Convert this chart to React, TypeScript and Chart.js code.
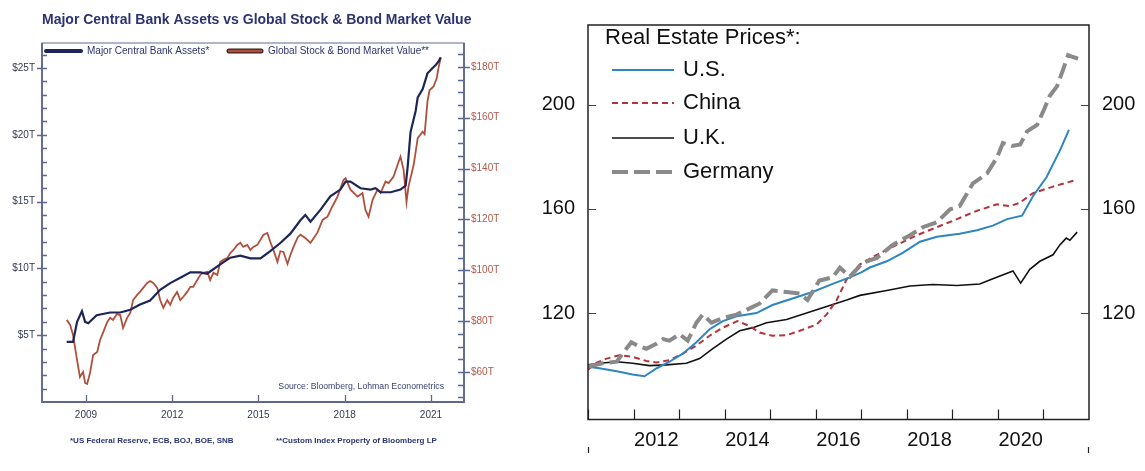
import React, { useEffect, useRef } from "react";
import { Chart, registerables } from "chart.js";
Chart.register(...registerables);

// ---------- Left chart data ----------
const cbYears = [2008.33, 2008.55, 2008.69, 2008.86, 2008.97, 2009.08, 2009.37, 2009.84, 2010.19, 2010.54, 2010.88, 2011.23, 2011.58, 2011.93, 2012.28, 2012.63, 2012.98, 2013.21, 2013.67, 2014.02, 2014.37, 2014.72, 2015.07, 2015.41, 2015.76, 2016.11, 2016.46, 2016.63, 2016.81, 2017.16, 2017.5, 2017.85, 2018.03, 2018.2, 2018.55, 2018.9, 2019.07, 2019.25, 2019.6, 2019.94, 2020.12, 2020.19, 2020.29, 2020.47, 2020.54, 2020.71, 2020.88, 2021.06, 2021.16, 2021.27, 2021.34];
const cbAssets = [4.5, 4.5, 6.0, 6.8, 6.0, 5.9, 6.5, 6.7, 6.7, 6.9, 7.3, 7.6, 8.4, 8.9, 9.3, 9.7, 9.7, 9.6, 10.3, 10.8, 10.95, 10.75, 10.75, 11.3, 11.9, 12.6, 13.6, 14.0, 13.5, 14.4, 15.4, 15.9, 16.5, 16.5, 16.0, 15.9, 16.0, 15.7, 15.7, 15.9, 16.2, 17.6, 20.2, 21.8, 22.8, 23.4, 24.6, 25.0, 25.2, 25.5, 25.8];

const mktYears = [2008.33, 2008.45, 2008.55, 2008.69, 2008.79, 2008.9, 2008.97, 2009.04, 2009.14, 2009.25, 2009.39, 2009.49, 2009.6, 2009.74, 2009.84, 2009.94, 2010.08, 2010.19, 2010.29, 2010.43, 2010.54, 2010.64, 2010.78, 2010.88, 2010.99, 2011.13, 2011.23, 2011.34, 2011.48, 2011.58, 2011.69, 2011.83, 2011.93, 2012.03, 2012.17, 2012.28, 2012.38, 2012.52, 2012.63, 2012.73, 2012.87, 2012.98, 2013.08, 2013.22, 2013.32, 2013.43, 2013.57, 2013.67, 2013.78, 2013.92, 2014.02, 2014.13, 2014.26, 2014.37, 2014.47, 2014.61, 2014.72, 2014.82, 2014.96, 2015.07, 2015.17, 2015.31, 2015.41, 2015.52, 2015.66, 2015.76, 2015.87, 2016.01, 2016.11, 2016.22, 2016.36, 2016.46, 2016.63, 2016.81, 2017.05, 2017.23, 2017.4, 2017.57, 2017.75, 2017.96, 2018.03, 2018.2, 2018.45, 2018.62, 2018.72, 2018.83, 2018.97, 2019.14, 2019.25, 2019.42, 2019.53, 2019.7, 2019.84, 2019.94, 2020.05, 2020.15, 2020.22, 2020.4, 2020.54, 2020.71, 2020.78, 2020.88, 2020.95, 2021.09, 2021.2, 2021.27, 2021.34];
const mktValue = [80.5, 78.5, 74.6, 64.7, 58.0, 60.0, 55.7, 55.3, 59.6, 66.7, 67.9, 72.6, 75.7, 79.7, 81.3, 80.5, 82.8, 82.4, 77.3, 81.3, 83.2, 88.3, 90.3, 91.5, 93.1, 95.0, 95.8, 95.0, 93.1, 88.3, 85.2, 88.3, 86.4, 89.1, 91.5, 88.3, 89.5, 91.5, 93.5, 93.5, 96.2, 98.2, 99.0, 99.4, 96.2, 99.0, 98.2, 103.3, 104.1, 104.9, 106.8, 108.0, 110.0, 110.8, 109.2, 110.0, 108.0, 109.2, 110.0, 112.0, 113.9, 114.7, 111.2, 108.0, 103.3, 107.5, 107.2, 102.5, 106.0, 109.2, 112.8, 114.0, 112.7, 110.8, 114.8, 119.8, 121.1, 125.1, 129.0, 135.6, 136.2, 131.7, 129.0, 130.4, 123.8, 121.1, 127.7, 131.7, 130.4, 134.9, 134.3, 136.9, 141.5, 144.7, 139.5, 126.8, 133.0, 141.5, 152.0, 154.5, 153.5, 166.5, 170.8, 172.3, 175.5, 180.0, 183.5];

const leftXTicks = [2009, 2012, 2015, 2018, 2021];
const leftYTicks = [5, 10, 15, 20, 25];
const rightYTicks = [60, 80, 100, 120, 140, 160, 180];
const leftSeriesNames = ["Major Central Bank Assets*", "Global Stock & Bond Market Value**"];

// ---------- Right chart data ----------
const usYears = [2011.0, 2011.25, 2011.63, 2011.98, 2012.24, 2012.51, 2012.79, 2013.08, 2013.38, 2013.67, 2013.96, 2014.26, 2014.7, 2015.05, 2015.49, 2015.93, 2016.37, 2016.75, 2017.0, 2017.19, 2017.56, 2017.91, 2018.29, 2018.66, 2019.16, 2019.54, 2019.89, 2020.2, 2020.53, 2020.77, 2021.07, 2021.36, 2021.56];
const usValues = [99.4, 98.8, 97.6, 96.4, 95.7, 98.8, 101.3, 104.4, 108.8, 113.8, 116.9, 118.8, 120.0, 123.1, 125.6, 128.1, 131.2, 133.7, 135.6, 137.5, 139.9, 143.1, 147.4, 149.3, 150.5, 151.8, 153.6, 156.1, 157.4, 164.9, 172.3, 182.4, 190.4];

const cnYears = [2011.0, 2011.19, 2011.41, 2011.69, 2011.98, 2012.28, 2012.5, 2012.79, 2013.08, 2013.38, 2013.67, 2013.96, 2014.28, 2014.55, 2014.77, 2015.05, 2015.36, 2015.65, 2016.02, 2016.24, 2016.46, 2016.68, 2016.97, 2017.34, 2017.78, 2018.22, 2018.66, 2019.1, 2019.54, 2019.98, 2020.26, 2020.48, 2020.77, 2021.21, 2021.74];
const cnValues = [98.2, 101.0, 102.5, 103.8, 103.2, 101.6, 101.0, 101.9, 104.4, 107.5, 111.3, 114.4, 116.9, 115.0, 112.5, 111.3, 111.5, 113.2, 115.6, 119.5, 125.0, 133.0, 138.7, 142.4, 146.2, 149.9, 153.0, 156.1, 159.3, 161.8, 161.1, 162.4, 166.1, 168.6, 171.3];

const ukYears = [2011.0, 2011.25, 2011.63, 2011.98, 2012.35, 2012.72, 2013.16, 2013.45, 2013.74, 2014.04, 2014.33, 2014.62, 2014.92, 2015.36, 2015.8, 2016.24, 2016.68, 2016.97, 2017.56, 2018.07, 2018.57, 2019.1, 2019.6, 2019.96, 2020.33, 2020.5, 2020.7, 2020.92, 2021.21, 2021.36, 2021.5, 2021.58, 2021.74];
const ukValues = [100.1, 100.7, 101.3, 100.7, 99.8, 100.1, 100.7, 102.5, 106.3, 110.0, 113.2, 114.4, 116.3, 117.5, 120.0, 122.5, 125.0, 126.8, 128.7, 130.4, 131.0, 130.6, 131.2, 133.7, 136.2, 131.5, 136.8, 139.9, 142.4, 146.2, 148.8, 148.0, 151.1];

const deYears = [2011.0, 2011.32, 2011.63, 2011.76, 2011.95, 2012.09, 2012.28, 2012.5, 2012.65, 2012.79, 2013.01, 2013.19, 2013.38, 2013.52, 2013.71, 2013.96, 2014.26, 2014.48, 2014.77, 2015.05, 2015.36, 2015.65, 2015.82, 2016.08, 2016.37, 2016.53, 2016.75, 2017.03, 2017.34, 2017.69, 2018.07, 2018.35, 2018.66, 2018.95, 2019.16, 2019.45, 2019.76, 2019.98, 2020.11, 2020.31, 2020.49, 2020.64, 2020.86, 2020.99, 2021.14, 2021.3, 2021.43, 2021.54, 2021.65, 2021.76];
const deValues = [99.4, 100.7, 101.3, 104.4, 108.8, 107.5, 106.3, 108.2, 110.0, 109.4, 111.9, 109.4, 116.3, 119.4, 116.3, 118.1, 119.4, 121.2, 123.7, 128.7, 128.1, 127.5, 125.0, 132.5, 133.7, 137.4, 134.0, 139.3, 141.2, 146.2, 149.9, 153.0, 154.9, 159.9, 161.1, 169.8, 173.6, 179.8, 185.4, 184.2, 184.8, 189.8, 192.3, 197.3, 203.5, 207.2, 213.5, 219.1, 218.4, 217.8];

const reSeriesNames = ["U.S.", "China", "U.K.", "Germany"];
const reYearBoundaries = [2011, 2012, 2013, 2014, 2015, 2016, 2017, 2018, 2019, 2020, 2021];
const reXLabels = [2012, 2014, 2016, 2018, 2020];
const reYTicks = [120, 160, 200];

const FONT = "'Liberation Sans', Arial, sans-serif";
const NAVY = "#1d2657";
const RUST = "#b0503c";
const LTEXT = "#2c3470";

const xy = (xs: number[], ys: number[]) => xs.map((x, i) => ({ x, y: ys[i] }));

function LeftChart() {
  const ref = useRef<HTMLCanvasElement>(null);
  useEffect(() => {
    const deco = {
      id: "leftDeco",
      afterDraw(chart: any) {
        const ctx = chart.ctx;
        const a = chart.chartArea;
        const yL = chart.scales.yL;
        const yR = chart.scales.yR;
        const x = chart.scales.x;
        ctx.save();
        // frame
        ctx.strokeStyle = "#7c84a6";
        ctx.lineWidth = 1.2;
        ctx.strokeRect(a.left, a.top, a.right - a.left, a.bottom - a.top);
        ctx.strokeStyle = "#5d6790";
        ctx.lineWidth = 1.8;
        ctx.beginPath();
        ctx.moveTo(a.left, a.top); ctx.lineTo(a.left, a.bottom); ctx.lineTo(a.right, a.bottom); ctx.lineTo(a.right, a.top);
        ctx.stroke();
        // ticks
        ctx.lineWidth = 1.3;
        ctx.beginPath();
        for (let v = 1; v <= 26; v++) {
          const py = Math.round(yL.getPixelForValue(v)) + 0.5;
          const major = v % 5 === 0;
          ctx.moveTo(a.left - (major ? 5 : 0), py);
          ctx.lineTo(a.left + 5, py);
        }
        for (let v = 50; v <= 185; v += 5) {
          const py = Math.round(yR.getPixelForValue(v)) + 0.5;
          const major = v % 20 === 0;
          ctx.moveTo(a.right - 6, py);
          ctx.lineTo(a.right + (major ? 6 : 0), py);
        }
        for (const t of leftXTicks) {
          const px = Math.round(x.getPixelForValue(t)) + 0.5;
          ctx.moveTo(px, a.bottom);
          ctx.lineTo(px, a.bottom - 7);
        }
        ctx.stroke();
        // title
        ctx.fillStyle = LTEXT;
        ctx.font = `bold 14px ${FONT}`;
        ctx.textBaseline = "middle";
        ctx.textAlign = "left";
        ctx.fillText("Major Central Bank Assets vs Global Stock & Bond Market Value", 42, 20);
        // legend
        ctx.lineCap = "round";
        ctx.strokeStyle = NAVY;
        ctx.lineWidth = 4;
        ctx.beginPath(); ctx.moveTo(46, 51); ctx.lineTo(81, 51); ctx.stroke();
        ctx.strokeStyle = "#3b2320";
        ctx.lineWidth = 5;
        ctx.beginPath(); ctx.moveTo(229, 51); ctx.lineTo(261, 51); ctx.stroke();
        ctx.strokeStyle = RUST;
        ctx.lineWidth = 2.5;
        ctx.beginPath(); ctx.moveTo(229, 51); ctx.lineTo(261, 51); ctx.stroke();
        ctx.font = `10px ${FONT}`;
        ctx.fillStyle = LTEXT;
        ctx.fillText(leftSeriesNames[0], 87, 51);
        ctx.fillText(leftSeriesNames[1], 268, 51);
        // source
        ctx.font = `8.7px ${FONT}`;
        ctx.fillStyle = "#3a4272";
        ctx.textAlign = "right";
        ctx.fillText("Source: Bloomberg, Lohman Econometrics", 444, 387);
        // footnotes
        ctx.textAlign = "left";
        ctx.font = `bold 8px ${FONT}`;
        ctx.fillStyle = LTEXT;
        ctx.fillText("*US Federal Reserve, ECB, BOJ, BOE, SNB", 70, 441);
        ctx.fillText("**Custom Index Property of Bloomberg LP", 276, 441);
        ctx.restore();
      },
    };
    const chart = new Chart(ref.current!, {
      type: "line",
      data: {
        datasets: [
          { label: leftSeriesNames[0], data: xy(cbYears, cbAssets), yAxisID: "yL", borderColor: NAVY, borderWidth: 2.2, pointRadius: 0, tension: 0 },
          { label: leftSeriesNames[1], data: xy(mktYears, mktValue), yAxisID: "yR", borderColor: RUST, borderWidth: 1.8, pointRadius: 0, tension: 0 },
        ],
      },
      options: {
        responsive: false,
        animation: false,
        maintainAspectRatio: false,
        layout: { padding: { top: 43, left: 0, right: 0, bottom: 0 } },
        plugins: { legend: { display: false }, tooltip: { enabled: false }, title: { display: false } },
        scales: {
          x: {
            type: "linear", min: 2007.47, max: 2022.15,
            afterBuildTicks: (s: any) => { s.ticks = leftXTicks.map((v) => ({ value: v })); },
            afterFit: (s: any) => { s.height = 69; },
            grid: { display: false, drawTicks: false }, border: { display: false },
            ticks: { padding: 7, color: "#343a52", font: { family: FONT, size: 10 }, maxRotation: 0, autoSkip: false, callback: (v: any) => String(v) },
          },
          yL: {
            type: "linear", position: "left", min: 0, max: 26.87,
            afterBuildTicks: (s: any) => { s.ticks = leftYTicks.map((v) => ({ value: v })); },
            afterFit: (s: any) => { s.width = 42; },
            grid: { display: false, drawTicks: false }, border: { display: false },
            ticks: { padding: 7, color: "#343a52", font: { family: FONT, size: 10 }, callback: (v: any) => `$${v}T` },
          },
          yR: {
            type: "linear", position: "right", min: 48.2, max: 189.4,
            afterBuildTicks: (s: any) => { s.ticks = rightYTicks.map((v) => ({ value: v })); },
            afterFit: (s: any) => { s.width = 66; },
            grid: { display: false, drawTicks: false }, border: { display: false },
            ticks: { padding: 7, color: "#b5574b", font: { family: FONT, size: 10 }, callback: (v: any) => `$${v}T` },
          },
        },
      } as any,
      plugins: [deco],
    });
    return () => chart.destroy();
  }, []);
  return <canvas ref={ref} width={530} height={471} style={{ position: "absolute", left: 0, top: 0, width: 530, height: 471 }} />;
}

const reStyles = [
  { color: "#2e86c1", width: 2, dash: [] as number[] },
  { color: "#b5333a", width: 2, dash: [6, 4] },
  { color: "#111111", width: 1.6, dash: [] as number[] },
  { color: "#8a8a8a", width: 4, dash: [16, 6] },
];

function RightChart() {
  const ref = useRef<HTMLCanvasElement>(null);
  useEffect(() => {
    const deco = {
      id: "rightDeco",
      afterDraw(chart: any) {
        const ctx = chart.ctx;
        const a = chart.chartArea;
        const y = chart.scales.y;
        const x = chart.scales.x;
        ctx.save();
        ctx.strokeStyle = "#222";
        ctx.lineWidth = 1.5;
        ctx.strokeRect(a.left, a.top, a.right - a.left, a.bottom - a.top);
        ctx.lineWidth = 1.2;
        ctx.strokeStyle = "#444";
        ctx.beginPath();
        for (const v of reYTicks) {
          const py = Math.round(y.getPixelForValue(v)) + 0.5;
          ctx.moveTo(a.left, py); ctx.lineTo(a.left + 8, py);
          ctx.moveTo(a.right - 8, py); ctx.lineTo(a.right, py);
        }
        ctx.stroke();
        ctx.strokeStyle = "#222";
        ctx.beginPath();
        for (const t of reYearBoundaries) {
          const px = Math.round(x.getPixelForValue(t)) + 0.5;
          ctx.moveTo(px, a.bottom); ctx.lineTo(px, a.bottom - 10);
        }
        ctx.moveTo(a.left + 0.5, 447); ctx.lineTo(a.left + 0.5, 453);
        ctx.moveTo(a.right - 0.5, 447); ctx.lineTo(a.right - 0.5, 453);
        ctx.stroke();
        // legend
        ctx.fillStyle = "#111";
        ctx.textAlign = "left";
        ctx.textBaseline = "middle";
        ctx.font = `22px ${FONT}`;
        ctx.fillText("Real Estate Prices*:", 75, 38);
        const ys = [70, 103, 138, 172];
        reSeriesNames.forEach((n, i) => {
          const st = reStyles[i];
          ctx.strokeStyle = st.color;
          ctx.lineWidth = st.width;
          ctx.setLineDash(st.dash);
          ctx.beginPath(); ctx.moveTo(82, ys[i]); ctx.lineTo(144, ys[i]); ctx.stroke();
          ctx.setLineDash([]);
          ctx.fillText(n, 153, ys[i]);
        });
        ctx.restore();
      },
    };
    const series = [xy(usYears, usValues), xy(cnYears, cnValues), xy(ukYears, ukValues), xy(deYears, deValues)];
    const datasets = [3, 0, 1, 2].map((i) => ({
      label: reSeriesNames[i], data: series[i], yAxisID: "y",
      borderColor: reStyles[i].color, borderWidth: reStyles[i].width, borderDash: reStyles[i].dash,
      pointRadius: 0, tension: 0, borderCapStyle: "butt",
    }));
    const chart = new Chart(ref.current!, {
      type: "line",
      data: { datasets },
      options: {
        responsive: false,
        animation: false,
        maintainAspectRatio: false,
        layout: { padding: { top: 14, left: 0, right: 0, bottom: 0 } },
        plugins: { legend: { display: false }, tooltip: { enabled: false } },
        scales: {
          x: {
            type: "linear", min: 2011, max: 2022,
            afterBuildTicks: (s: any) => { s.ticks = reXLabels.map((v) => ({ value: v + 0.5 })); },
            afterFit: (s: any) => { s.height = 51.5; },
            grid: { display: false, drawTicks: false }, border: { display: false },
            ticks: { padding: 9, color: "#111", font: { family: FONT, size: 20 }, maxRotation: 0, autoSkip: false, callback: (v: any) => String(Math.floor(v)) },
          },
          y: {
            type: "linear", position: "left", min: 79.1, max: 230.7,
            afterBuildTicks: (s: any) => { s.ticks = reYTicks.map((v) => ({ value: v })); },
            afterFit: (s: any) => { s.width = 58; },
            grid: { display: false, drawTicks: false }, border: { display: false },
            ticks: { padding: 13, color: "#111", font: { family: FONT, size: 20 } },
          },
          y2: {
            type: "linear", position: "right", min: 79.1, max: 230.7,
            afterBuildTicks: (s: any) => { s.ticks = reYTicks.map((v) => ({ value: v })); },
            afterFit: (s: any) => { s.width = 56; },
            grid: { display: false, drawTicks: false }, border: { display: false },
            ticks: { padding: 13, color: "#111", font: { family: FONT, size: 20 } },
          },
        },
      } as any,
      plugins: [deco],
    });
    return () => chart.destroy();
  }, []);
  return <canvas ref={ref} width={615} height={471} style={{ position: "absolute", left: 530, top: 0, width: 615, height: 471 }} />;
}

export default function App() {
  return (
    <div style={{ position: "fixed", left: 0, top: 0, width: 1145, height: 471, background: "#fff", overflow: "hidden" }}>
      <LeftChart />
      <RightChart />
    </div>
  );
}
